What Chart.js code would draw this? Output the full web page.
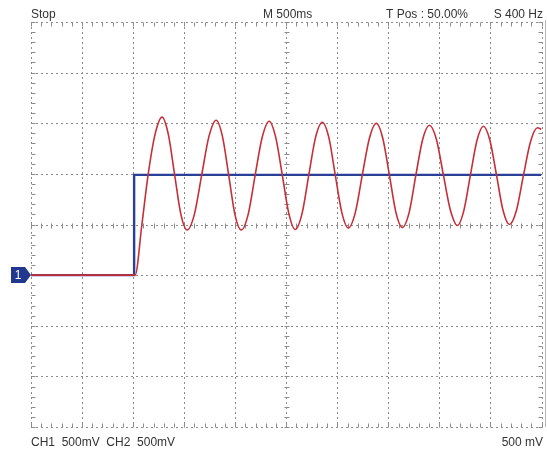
<!DOCTYPE html>
<html>
<head>
<meta charset="utf-8">
<script src="https://cdn.jsdelivr.net/npm/chart.js@4/dist/chart.umd.min.js"></script>
<style>
  html, body { margin: 0; padding: 0; background: #fff; }
  #wrap { width: 547px; height: 454px; }
</style>
</head>
<body>
<div id="wrap"><canvas id="scope" width="547" height="454"></canvas></div>
<script>
// --- DATA (seconds / volts) ---
const timeTicks = [-2.5, -2, -1.5, -1, -0.5, 0, 0.5, 1, 1.5, 2, 2.5];
const voltTicks = [-1.5, -1, -0.5, 0, 0.5, 1, 1.5, 2, 2.5];

// blue trace: step
const stepTime = [-2.5, -1.49, -1.49, 2.5];
const stepVolt = [0, 0, 0.99, 0.99];

// red trace: ringing response
const sineTime = [-2.5, -1.48, -1.415, -1.353, -1.285, -1.216, -1.155, -1.093, -1.032, -0.971,
  -0.9, -0.828, -0.757, -0.686, -0.625, -0.564, -0.503, -0.441, -0.373, -0.304,
  -0.236, -0.167, -0.103, -0.039, 0.025, 0.088, 0.155, 0.221, 0.287, 0.353,
  0.417, 0.48, 0.544, 0.608, 0.677, 0.745, 0.814, 0.882, 0.946, 1.01,
  1.074, 1.137, 1.204, 1.27, 1.336, 1.402, 1.471, 1.539, 1.608, 1.676,
  1.74, 1.804, 1.868, 1.931, 1.995, 2.059, 2.123, 2.186, 2.255, 2.324,
  2.393, 2.461, 2.5];
const sineVolt = [0, 0, 0.49, 0.99, 1.39, 1.56, 1.39, 0.99, 0.6, 0.445,
  0.6, 0.99, 1.37, 1.53, 1.37, 0.99, 0.6, 0.445, 0.6, 0.99,
  1.36, 1.52, 1.36, 0.99, 0.61, 0.45, 0.61, 0.99, 1.36, 1.51,
  1.36, 0.99, 0.62, 0.465, 0.62, 0.99, 1.35, 1.5, 1.35, 0.99,
  0.62, 0.47, 0.62, 0.99, 1.34, 1.48, 1.34, 0.99, 0.64, 0.49,
  0.64, 0.99, 1.33, 1.47, 1.33, 0.99, 0.64, 0.5, 0.64, 0.99,
  1.32, 1.455, 1.44];

const topLabels = [
  { text: 'Stop', x: 31, align: 'left' },
  { text: 'M 500ms', x: 263, align: 'left' },
  { text: 'T Pos : 50.00%', x: 386, align: 'left' },
  { text: 'S 400 Hz', x: 543, align: 'right' }
];
const bottomLabels = [
  { text: 'CH1  500mV  CH2  500mV', x: 31, align: 'left' },
  { text: '500 mV', x: 543, align: 'right' }
];

const toPoints = (xs, ys) => xs.map((x, i) => ({ x: x, y: ys[i] }));

// graticule, ground marker and status text
const scopePlugin = {
  id: 'scope',
  beforeDatasetsDraw(chart) {
    const { ctx, chartArea: a, scales: { x, y } } = chart;
    ctx.save();
    ctx.strokeStyle = '#8c8c8c';
    ctx.lineWidth = 1;
    ctx.setLineDash([2, 3]);
    timeTicks.forEach((t) => {
      const px = Math.round(x.getPixelForValue(t)) + 0.5;
      ctx.beginPath();
      ctx.moveTo(px, a.top);
      ctx.lineTo(px, a.bottom);
      ctx.stroke();
    });
    voltTicks.forEach((v) => {
      const py = Math.round(y.getPixelForValue(v)) + 0.5;
      ctx.beginPath();
      ctx.moveTo(a.left, py);
      ctx.lineTo(a.right, py);
      ctx.stroke();
    });
    ctx.setLineDash([]);

    // minor ticks, 5 per division, on border and centre lines
    const xMid = Math.round(x.getPixelForValue(0)) + 0.5;
    const yMid = Math.round(y.getPixelForValue(0.5)) + 0.5;
    const top = Math.round(a.top) + 0.5;
    const bottom = Math.round(a.bottom) + 0.5;
    const left = Math.round(a.left) + 0.5;
    const right = Math.round(a.right) + 0.5;
    ctx.beginPath();
    for (let i = 0; i <= 50; i++) {
      const px = Math.round(x.getPixelForValue(-2.5 + i * 0.1)) + 0.5;
      ctx.moveTo(px, top); ctx.lineTo(px, top + 4);
      ctx.moveTo(px, bottom); ctx.lineTo(px, bottom - 4);
      ctx.moveTo(px, yMid - 2); ctx.lineTo(px, yMid + 3);
    }
    for (let i = 0; i <= 40; i++) {
      const py = Math.round(y.getPixelForValue(-1.5 + i * 0.1)) + 0.5;
      ctx.moveTo(left, py); ctx.lineTo(left + 4, py);
      ctx.moveTo(right, py); ctx.lineTo(right - 4, py);
      ctx.moveTo(xMid - 2, py); ctx.lineTo(xMid + 3, py);
    }
    ctx.stroke();

    // solid edge line at far right
    ctx.strokeStyle = '#b4b4b4';
    ctx.beginPath();
    ctx.moveTo(545.5, 20);
    ctx.lineTo(545.5, 427);
    ctx.stroke();
    ctx.restore();
  },
  afterDraw(chart) {
    const { ctx, scales: { y } } = chart;
    ctx.save();
    // ground marker for channel 1
    const gy = Math.round(y.getPixelForValue(0));
    ctx.fillStyle = '#22388f';
    ctx.beginPath();
    ctx.moveTo(11, gy - 8);
    ctx.lineTo(25, gy - 8);
    ctx.lineTo(31, gy);
    ctx.lineTo(25, gy + 8);
    ctx.lineTo(11, gy + 8);
    ctx.closePath();
    ctx.fill();
    ctx.fillStyle = '#fff';
    ctx.font = '12px "Liberation Sans", Arial, sans-serif';
    ctx.textAlign = 'center';
    ctx.textBaseline = 'middle';
    ctx.fillText('1', 18, gy + 1);

    ctx.fillStyle = '#333';
    ctx.textBaseline = 'alphabetic';
    topLabels.forEach((l) => {
      ctx.textAlign = l.align;
      ctx.fillText(l.text, l.x, 18);
    });
    bottomLabels.forEach((l) => {
      ctx.textAlign = l.align;
      ctx.fillText(l.text, l.x, 446);
    });
    ctx.restore();
  }
};

new Chart(document.getElementById('scope'), {
  type: 'line',
  data: {
    datasets: [
      {
        label: 'CH2',
        data: toPoints(sineTime, sineVolt),
        borderColor: '#c62f37',
        borderWidth: 1.6,
        pointRadius: 0,
        cubicInterpolationMode: 'monotone',
        order: 0
      },
      {
        label: 'CH1',
        data: toPoints(stepTime, stepVolt),
        borderColor: '#2a3f98',
        borderWidth: 2.4,
        pointRadius: 0,
        tension: 0,
        order: 1
      }
    ]
  },
  options: {
    responsive: false,
    animation: false,
    events: [],
    layout: { padding: { left: 31, top: 22, right: 5.5, bottom: 27 } },
    scales: {
      x: { type: 'linear', min: -2.5, max: 2.5, display: false },
      y: { type: 'linear', min: -1.5, max: 2.5, display: false }
    },
    plugins: {
      legend: { display: false },
      tooltip: { enabled: false }
    }
  },
  plugins: [scopePlugin]
});
</script>
</body>
</html>
